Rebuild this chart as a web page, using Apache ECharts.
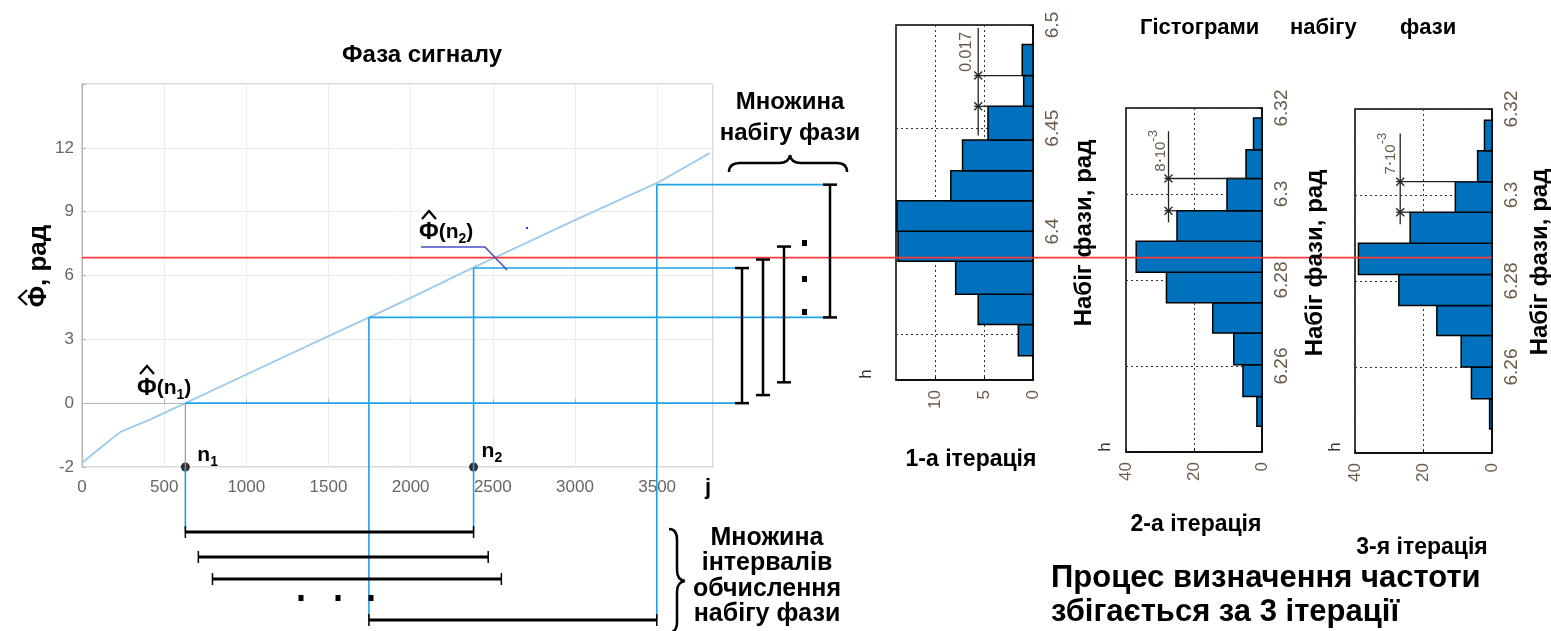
<!DOCTYPE html>
<html><head><meta charset="utf-8">
<script src="https://cdn.jsdelivr.net/npm/echarts@6/dist/echarts.min.js"></script>
<style>html,body{margin:0;padding:0;background:#fff}#c{width:1551px;height:631px}</style>
</head><body><div id="c"></div>
<script>
// ---- main phase curve ----
const phaseJ   = [0, 120, 235, 420, 629, 1000, 1500, 1745, 2000, 2383, 2500, 3000, 3500, 3820];
const phaseVal = [-2.8, -2.05, -1.35, -0.75, 0, 1.35, 3.15, 4.02, 4.95, 6.38, 6.8, 8.6, 10.35, 11.75];
const mainYTicks = [-3, 0, 3, 6, 9, 12];
const mainYLabels = ['-2', '0', '3', '6', '9', '12'];
const redLevel = 6.84;
// intervals (j) and corresponding phase ranges
const intervalStartJ = [629, 708, 794, 1746];
const intervalEndJ   = [2383, 2472, 2552, 3498];
const rangeLow  = [0, 0.38, 0.98, 4.03];
const rangeHigh = [6.35, 6.75, 7.36, 10.27];
const markJ = [629, 2383];
// ---- histograms ----
const hist1Edges  = [6.3398, 6.3549, 6.3695, 6.3855, 6.4001, 6.4148, 6.4294, 6.4443, 6.4606, 6.4755, 6.4906];
const hist1Counts = [1.5, 5.6, 7.9, 13.8, 13.9, 8.4, 7.2, 4.6, 0.95, 1.1];
const hist2Edges  = [6.2460, 6.2529, 6.2603, 6.2677, 6.2747, 6.2818, 6.2890, 6.2961, 6.3036, 6.3103, 6.3177];
const hist2Counts = [1.5, 5.6, 8.3, 14.5, 28.1, 37, 25, 10.3, 4.7, 2.5];
const hist3Edges  = [6.2456, 6.2526, 6.2600, 6.2673, 6.2743, 6.2815, 6.2888, 6.2960, 6.3031, 6.3103, 6.3174];
const hist3Counts = [0.7, 6.0, 9.0, 16.1, 27.2, 39.0, 23.9, 10.7, 4.2, 2.2];
const hist1PhaseTicks = [6.35, 6.4, 6.45, 6.5];
const hist1CountTicks = [0, 5, 10];
const binWidthLabels = ['0.017', '8', '7'];

const FONT = '"Liberation Sans", Arial, sans-serif';
const LBL = '#6a5a48';
const BLUE = '#1ea2e6';
const chart = echarts.init(document.getElementById('c'), null, {renderer: 'canvas'});

function histSeries(gi, edges, counts) {
  return {
    type: 'custom', xAxisIndex: gi, yAxisIndex: gi, z: 3,
    data: counts.map((c, i) => [edges[i], edges[i + 1], c]),
    encode: {x: 2, y: [0, 1]},
    renderItem(params, api) {
      const p1 = api.coord([0, api.value(0)]);
      const p2 = api.coord([api.value(2), api.value(1)]);
      return {type: 'rect',
        shape: {x: Math.min(p1[0], p2[0]), y: Math.min(p1[1], p2[1]),
                width: Math.abs(p2[0] - p1[0]), height: Math.abs(p2[1] - p1[1])},
        style: {fill: '#0072BD', stroke: '#000', lineWidth: 1.5}};
    }
  };
}
const dotted = {show: true, lineStyle: {color: '#333', type: [2, 3], width: 1}};
function histX(gi, max, ticks) {
  const o = {gridIndex: gi, type: 'value', inverse: true, min: 0, max: max, position: 'bottom',
    axisLine: {show: true, lineStyle: {color: '#000', width: 1.5}},
    axisTick: {show: true, inside: true, length: 3, lineStyle: {color: '#000'}},
    axisLabel: {rotate: 90, fontSize: 17, color: LBL, fontFamily: FONT, margin: 10},
    splitLine: dotted};
  if (ticks) { o.axisTick.customValues = ticks; o.axisLabel.customValues = ticks; }
  else { o.interval = max / 2; }
  return o;
}
function histY(gi, min, max, ticks) {
  const o = {gridIndex: gi, type: 'value', min: min, max: max, position: 'right',
    axisLine: {show: true, onZero: false, lineStyle: {color: '#000', width: 1.5}},
    axisTick: {show: true, inside: true, length: 3, lineStyle: {color: '#000'}},
    axisLabel: {rotate: 90, fontSize: 19, color: LBL, fontFamily: FONT, margin: 10, showMinLabel: false},
    splitLine: dotted};
  if (ticks) { o.axisTick.customValues = ticks; o.axisLabel.customValues = ticks; }
  else { o.interval = 0.02; }
  return o;
}

const option = {
  animation: false,
  backgroundColor: '#fff',
  grid: [
    {left: 82, top: 84, width: 631, height: 383, show: true, borderColor: '#b5b5b5', borderWidth: 1},
    {left: 896, top: 25, width: 137, height: 355, show: true, borderColor: '#000', borderWidth: 1.5},
    {left: 1126, top: 108, width: 136, height: 344, show: true, borderColor: '#000', borderWidth: 1.5},
    {left: 1355, top: 109, width: 137, height: 344, show: true, borderColor: '#000', borderWidth: 1.5}
  ],
  xAxis: [
    {gridIndex: 0, type: 'value', min: 0, max: 3840, interval: 500,
     axisLine: {lineStyle: {color: '#b5b5b5'}},
     axisTick: {inside: true, length: 4, lineStyle: {color: '#b5b5b5'}},
     axisLabel: {showMaxLabel: false, fontSize: 17, color: '#666', fontFamily: FONT, margin: 12,
       formatter: v => String(v)},
     splitLine: {show: true, lineStyle: {color: '#ececec'}}},
    histX(1, 14, hist1CountTicks),
    histX(2, 40), histX(3, 40)
  ],
  yAxis: [
    {gridIndex: 0, type: 'value', min: -3, max: 15, interval: 3,
     axisLine: {show: true, lineStyle: {color: '#b5b5b5'}},
     axisTick: {show: true, inside: true, length: 4, lineStyle: {color: '#b5b5b5'}},
     axisLabel: {fontSize: 17, color: '#666', fontFamily: FONT, margin: 8,
       formatter: v => { const i = mainYTicks.indexOf(v); return i >= 0 ? mainYLabels[i] : ''; }},
     splitLine: {show: true, lineStyle: {color: '#ececec'}}},
    histY(1, 6.328, 6.5, hist1PhaseTicks),
    histY(2, 6.24, 6.32), histY(3, 6.24, 6.32)
  ],
  series: [
    {type: 'line', xAxisIndex: 0, yAxisIndex: 0, data: phaseJ.map((j, i) => [j, phaseVal[i]]),
     showSymbol: false, lineStyle: {color: '#9ccbec', width: 1.8}, z: 4},
    {type: 'scatter', xAxisIndex: 0, yAxisIndex: 0, clip: false, z: 20,
     data: markJ.map(j => [j, -3]), symbolSize: 9, itemStyle: {color: '#000'}},
    histSeries(1, hist1Edges, hist1Counts),
    histSeries(2, hist2Edges, hist2Counts),
    histSeries(3, hist3Edges, hist3Counts)
  ]
};
chart.setOption(option);

// ---------- overlay graphics ----------
const P = (gi, x, y) => chart.convertToPixel({gridIndex: gi}, [x, y]);
const G = [];
const line = (x1, y1, x2, y2, stroke, w, z) => G.push({type: 'line', z: z || 50, silent: true,
  shape: {x1, y1, x2, y2}, style: {stroke, lineWidth: w || 1.5}});
const poly = (pts, stroke, w) => G.push({type: 'polyline', z: 58, silent: true, shape: {points: pts},
  style: {stroke: stroke || '#000', lineWidth: w || 2, fill: null}});
const bez = (x1, y1, cx, cy, x2, y2) => G.push({type: 'bezierCurve', z: 55, silent: true,
  shape: {x1, y1, x2, y2, cpx1: cx, cpy1: cy}, style: {stroke: '#000', lineWidth: 2.5, fill: null}});
const text = (x, y, t, o) => G.push(Object.assign({type: 'text', z: 60, silent: true, x, y,
  style: Object.assign({text: t, font: 'bold 20px ' + FONT, fill: '#000', align: 'center', verticalAlign: 'middle'}, o && o.style)},
  o && o.el));

const yBottom = P(0, 0, -3)[1];
const barXs = [742, 763, 784, 830];
const barYs = [532, 557, 579, 620];

// connectors from curve to the sets
const conn = [
  {j: intervalStartJ[0], v: rangeLow[0], down: barYs[0], hTo: barXs[0], gray: true},
  {j: intervalEndJ[0], v: rangeHigh[0], down: barYs[0], hTo: barXs[0]},
  {j: intervalStartJ[3], v: rangeLow[3], down: barYs[3], hTo: barXs[3]},
  {j: intervalEndJ[3], v: rangeHigh[3], down: barYs[3], hTo: barXs[3]}
];
conn.forEach(c => {
  const p = P(0, c.j, c.v);
  if (c.gray) { line(p[0], p[1], p[0], yBottom, '#9a9a9a', 1.2, 40); line(p[0], yBottom, p[0], c.down, BLUE, 1.6, 40); }
  else line(p[0], p[1], p[0], c.down, BLUE, 1.6, 40);
  line(p[0], p[1], c.hTo - 4, p[1], BLUE, 1.6, 40);
});

// red level line across all plots
const pr = P(0, 0, redLevel);
const prEnd = P(3, 0, 6.3);
line(pr[0], pr[1], prEnd[0], pr[1], '#f23a3a', 1.6, 45);

// vertical I-bars (phase sets)
for (let i = 0; i < 4; i++) {
  const y1 = P(0, 0, rangeLow[i])[1], y2 = P(0, 0, rangeHigh[i])[1], x = barXs[i];
  line(x, y1, x, y2, '#000', 2.5, 55);
  line(x - 7, y1, x + 7, y1, '#000', 2.5, 55);
  line(x - 7, y2, x + 7, y2, '#000', 2.5, 55);
}
[243, 279, 312].forEach(y => G.push({type: 'rect', z: 55, silent: true, shape: {x: 802, y: y - 3, width: 5, height: 6}, style: {fill: '#000'}}));
// horizontal I-bars (interval sets)
for (let i = 0; i < 4; i++) {
  const x1 = P(0, intervalStartJ[i], 0)[0], x2 = P(0, intervalEndJ[i], 0)[0], y = barYs[i];
  line(x1, y, x2, y, '#000', 3, 55);
  line(x1, y - 6, x1, y + 6, '#000', 1.5, 55);
  line(x2, y - 6, x2, y + 6, '#000', 1.5, 55);
}
[301, 338, 371].forEach(x => G.push({type: 'rect', z: 55, silent: true, shape: {x: x - 2.5, y: 595, width: 5, height: 6}, style: {fill: '#000'}}));

// braces
bez(729, 172, 729, 163, 740, 163); line(740, 163, 779, 163, '#000', 2.5, 55);
bez(779, 163, 789, 163, 790, 155); bez(790, 155, 791, 163, 801, 163);
line(801, 163, 837, 163, '#000', 2.5, 55); bez(837, 163, 847, 163, 847, 172);
bez(669, 529, 677, 529, 677, 540); line(677, 540, 677, 570, '#000', 2.5, 55);
bez(677, 570, 677, 580, 685, 581); bez(685, 581, 677, 582, 677, 592);
line(677, 592, 677, 622, '#000', 2.5, 55); bez(677, 622, 677, 632, 669, 633);

// Φ(n2) leader line
G.push({type: 'polyline', z: 55, silent: true, shape: {points: [[421, 247], [485, 247], [507, 270]]}, style: {stroke: '#4552c4', lineWidth: 1.6, fill: null}});
G.push({type: 'circle', z: 55, silent: true, shape: {cx: 527, cy: 228, r: 1.2}, style: {fill: '#3040d0'}});

// texts — main chart
text(422, 55, 'Фаза сигналу', {style: {font: 'bold 24px ' + FONT}});
text(39, 266, 'Φ, рад', {style: {font: 'bold 26px ' + FONT}, el: {rotation: Math.PI / 2}});
poly([[27, 290], [19, 297.5], [27, 305]], '#000', 2.2);
text(708, 488, 'j', {style: {font: 'bold 22px ' + FONT}});
const rich = {
  f: {font: 'bold 24px ' + FONT, lineHeight: 28, verticalAlign: 'middle'},
  n: {font: 'bold 21px ' + FONT, lineHeight: 28, verticalAlign: 'middle'},
  s: {font: 'bold 14px ' + FONT, lineHeight: 13, verticalAlign: 'bottom'}
};
text(137, 388, '{f|Φ}{n|(n}{s|1}{n|)}', {style: {rich, align: 'left'}});
poly([[140, 374], [147, 366], [154, 374]], '#000', 2.2);
text(419, 232, '{f|Φ}{n|(n}{s|2}{n|)}', {style: {rich, align: 'left'}});
poly([[422, 219], [429, 211], [436, 219]], '#000', 2.2);
const pn1 = P(0, markJ[0], -3), pn2 = P(0, markJ[1], -3);
text(pn1[0] + 12, pn1[1] - 12, '{n|n}{s|1}', {style: {rich, align: 'left'}});
text(pn2[0] + 8, pn2[1] - 16, '{n|n}{s|2}', {style: {rich, align: 'left'}});
text(790, 102, 'Множина', {style: {font: 'bold 24px ' + FONT}});
text(790, 133, 'набігу фази', {style: {font: 'bold 24px ' + FONT}});
['Множина', 'інтервалів', 'обчислення', 'набігу фази'].forEach((t, i) =>
  text(767, 538 + i * 25.5, t, {style: {font: 'bold 25px ' + FONT}}));

// texts — histograms
text(1140, 28, 'Гістограми', {style: {font: 'bold 22px ' + FONT, align: 'left'}});
text(1290, 28, 'набігу', {style: {font: 'bold 22px ' + FONT, align: 'left'}});
text(1400, 28, 'фази', {style: {font: 'bold 22px ' + FONT, align: 'left'}});
[[1084, 233], [1315, 263], [1540, 262]].forEach(p =>
  text(p[0], p[1], 'Набіг фази, рад', {style: {font: 'bold 24px ' + FONT}, el: {rotation: Math.PI / 2}}));
[[866, 374], [1105, 447], [1335, 447]].forEach(p =>
  text(p[0], p[1], 'h', {style: {font: '17px ' + FONT, fill: '#333'}, el: {rotation: Math.PI / 2}}));
text(971, 460, '1-а ітерація', {style: {font: 'bold 23px ' + FONT}});
text(1196, 525, '2-а ітерація', {style: {font: 'bold 23px ' + FONT}});
text(1422, 548, '3-я ітерація', {style: {font: 'bold 23px ' + FONT}});
text(1051, 578, 'Процес визначення частоти', {style: {font: 'bold 31px ' + FONT, align: 'left'}});
text(1051, 612, 'збігається за 3 ітерації', {style: {font: 'bold 31px ' + FONT, align: 'left'}});

// bin-width dimension marks
const dims = [
  {gi: 1, cx: 5.6, top: 6.4985, bot: 6.4465, e1: hist1Edges[8], e2: hist1Edges[9], c1: hist1Counts[7], c2: hist1Counts[9], tx: -12},
  {gi: 2, cx: 27.5, top: 6.3146, bot: 6.2934, e1: hist2Edges[7], e2: hist2Edges[8], c1: hist2Counts[6], c2: hist2Counts[8], tx: -11},
  {gi: 3, cx: 26.8, top: 6.3143, bot: 6.2932, e1: hist3Edges[7], e2: hist3Edges[8], c1: hist3Counts[6], c2: hist3Counts[8], tx: -13}
];
dims.forEach((d, k) => {
  const a = P(d.gi, d.cx, d.top), b = P(d.gi, d.cx, d.bot);
  line(a[0], a[1], b[0], b[1], '#222', 1.3, 58);
  [[d.e1, d.c1], [d.e2, d.c2]].forEach(([e, c]) => {
    const p = P(d.gi, d.cx, e), q = P(d.gi, c, e);
    line(p[0] - 4, p[1], q[0], p[1], '#222', 1.3, 58);
    line(p[0] - 4, p[1] - 4, p[0] + 4, p[1] + 4, '#222', 1.3, 58);
    line(p[0] - 4, p[1] + 4, p[0] + 4, p[1] - 4, '#222', 1.3, 58);
  });
  const t = P(d.gi, d.cx, (d.top + d.e2) / 2);
  if (k === 0) text(a[0] + d.tx, t[1], binWidthLabels[0], {style: {font: '16px ' + FONT, fill: LBL}, el: {rotation: Math.PI / 2}});
  else text(a[0] + d.tx, t[1] - 4, '{m|' + binWidthLabels[k] + '⋅10}{e|-3}', {style: {rich: {
    m: {font: '15px ' + FONT, fill: LBL, lineHeight: 22, verticalAlign: 'bottom'},
    e: {font: '13px ' + FONT, fill: LBL, lineHeight: 22, verticalAlign: 'top'}}}, el: {rotation: Math.PI / 2}});
});

chart.setOption({graphic: G});
</script>
</body></html>
